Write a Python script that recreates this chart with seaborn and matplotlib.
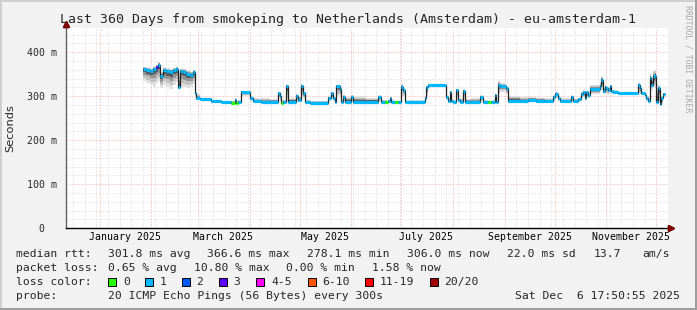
import numpy as np
import pandas as pd
import matplotlib
matplotlib.use("Agg")
import matplotlib.pyplot as plt
import matplotlib.dates as mdates
import matplotlib.transforms as mtransforms
from matplotlib.patches import Rectangle
from matplotlib.ticker import MultipleLocator, NullFormatter
import seaborn as sns

# ---------------- data ----------------
dates = [
    "2025-01-27", "2025-01-29", "2025-01-31", "2025-02-02", "2025-02-04", "2025-02-05",
    "2025-02-06", "2025-02-08", "2025-02-10", "2025-02-12", "2025-02-14", "2025-02-16",
    "2025-02-17", "2025-02-18", "2025-02-20", "2025-02-22", "2025-02-24", "2025-02-26",
    "2025-02-27", "2025-02-28", "2025-03-02", "2025-03-09", "2025-03-15", "2025-03-21",
    "2025-03-23", "2025-03-24", "2025-03-25", "2025-03-27", "2025-04-01", "2025-04-03",
    "2025-04-08", "2025-04-13", "2025-04-18", "2025-04-19", "2025-04-20", "2025-04-21",
    "2025-04-23", "2025-04-24", "2025-04-29", "2025-04-30", "2025-05-02", "2025-05-03",
    "2025-05-04", "2025-05-07", "2025-05-18", "2025-05-20", "2025-05-21", "2025-05-22",
    "2025-05-23", "2025-05-25", "2025-05-26", "2025-05-27", "2025-05-28", "2025-06-01",
    "2025-06-02", "2025-06-10", "2025-06-17", "2025-06-19", "2025-06-21", "2025-06-23",
    "2025-06-24", "2025-06-25", "2025-06-27", "2025-06-29", "2025-07-01", "2025-07-02",
    "2025-07-03", "2025-07-15", "2025-07-16", "2025-07-17", "2025-07-28", "2025-07-29",
    "2025-07-30", "2025-07-31", "2025-08-01", "2025-08-03", "2025-08-04", "2025-08-05",
    "2025-08-07", "2025-08-08", "2025-08-12", "2025-08-17", "2025-08-19", "2025-08-22",
    "2025-08-24", "2025-08-26", "2025-08-27", "2025-08-28", "2025-08-29", "2025-09-02",
    "2025-09-03", "2025-09-10", "2025-09-15", "2025-09-20", "2025-09-25", "2025-09-30",
    "2025-10-01", "2025-10-03", "2025-10-04", "2025-10-11", "2025-10-12", "2025-10-15",
    "2025-10-17", "2025-10-18", "2025-10-19", "2025-10-20", "2025-10-21", "2025-10-22",
    "2025-10-28", "2025-10-29", "2025-10-30", "2025-10-31", "2025-11-01", "2025-11-02",
    "2025-11-03", "2025-11-04", "2025-11-05", "2025-11-08", "2025-11-20", "2025-11-21",
    "2025-11-22", "2025-11-24", "2025-11-25", "2025-11-26", "2025-11-27", "2025-11-28",
    "2025-11-29", "2025-11-30", "2025-12-01", "2025-12-02", "2025-12-03", "2025-12-04",
    "2025-12-05", "2025-12-06",
]
median_ms = [
    362, 360, 357, 362, 366, 372,
    347, 360, 357, 355, 359, 362,
    322, 357, 355, 351, 348, 355,
    307, 295, 293, 289, 286, 285,
    292, 285, 288, 310, 295, 290,
    288, 288, 307, 300, 285, 288,
    323, 288, 301, 291, 324, 307,
    288, 285.5, 297, 307, 297, 288,
    323, 316, 288, 299, 288, 299,
    288, 288, 299, 288, 288, 290,
    296, 288, 288, 288, 322, 315,
    288, 297, 320, 325, 299, 290,
    310, 290, 288, 314, 292, 288,
    313, 288, 288, 299, 288, 288,
    288, 303, 288, 326, 323, 318,
    290, 289, 291, 290, 289, 299,
    305, 295, 290, 299, 290, 293,
    306, 309, 295, 309, 303, 316,
    323, 337, 312, 322, 318, 314,
    323, 313, 310, 307, 326, 318,
    307, 303, 295, 290, 341, 326,
    345, 347, 288, 318, 282, 295,
    305, 305,
]
smoke_lo_ms = [
    335, 330, 325, 322, 330, 335,
    318, 325, 320, 316, 325, 332,
    315, 322, 320, 318, 322, 328,
    300, 292, 291, 287, 284, 283,
    284, 283, 285, 300, 290, 287,
    286, 286, 295, 290, 283, 286,
    295, 286, 290, 288, 300, 295,
    286, 284, 290, 295, 290, 286,
    300, 300, 286, 290, 286, 290,
    286, 286, 290, 286, 286, 286,
    288, 286, 286, 286, 300, 300,
    286, 290, 300, 323, 292, 287,
    295, 287, 286, 295, 288, 286,
    295, 286, 286, 290, 286, 286,
    286, 292, 286, 305, 310, 305,
    287, 286, 287, 287, 286, 290,
    295, 290, 287, 290, 287, 288,
    295, 298, 290, 298, 295, 305,
    310, 315, 305, 305, 305, 305,
    305, 305, 305, 304, 305, 305,
    303, 298, 290, 287, 320, 315,
    320, 320, 285, 290, 278, 285,
    300, 300,
]
smoke_hi_ms = [
    367, 366, 364, 368, 372, 378,
    356, 366, 364, 362, 365, 368,
    352, 363, 362, 359, 356, 360,
    340, 305, 296, 292, 289, 290,
    296, 289, 291, 313, 300, 295,
    296, 294, 310, 304, 290, 292,
    326, 297, 305, 300, 327, 310,
    292, 289, 300, 310, 300, 291,
    326, 319, 292, 303, 298, 303,
    300, 297, 302, 292, 291, 292,
    298, 291, 290, 290, 327, 318,
    291, 300, 323, 327, 302, 293,
    313, 293, 291, 317, 295, 296,
    316, 293, 296, 302, 291, 290,
    291, 306, 291, 335, 330, 322,
    300, 298, 299, 297, 296, 302,
    310, 300, 295, 302, 294, 297,
    310, 314, 300, 312, 308, 325,
    330, 345, 320, 326, 322, 318,
    326, 316, 314, 310, 330, 322,
    310, 306, 299, 295, 352, 345,
    358, 360, 330, 325, 290, 300,
    308, 308,
]
loss_level = [
    1, 1, 1, 1, 3, 1,
    1, 1, 1, 1, 1, 1,
    1, 1, 1, 1, 1, 1,
    1, 1, 1, 1, 1, 0,
    1, 0, 1, 1, 1, 1,
    1, 1, 1, 1, 0, 1,
    1, 1, 1, 1, 1, 1,
    1, 1, 1, 1, 1, 1,
    1, 1, 1, 1, 1, 1,
    1, 1, 1, 1, 0, 1,
    1, 1, 0, 1, 1, 1,
    1, 1, 1, 1, 1, 1,
    1, 1, 1, 1, 1, 1,
    1, 1, 1, 1, 1, 0,
    1, 1, 1, 1, 1, 1,
    1, 1, 1, 1, 1, 1,
    1, 1, 1, 1, 1, 1,
    1, 1, 1, 1, 1, 1,
    1, 1, 1, 1, 1, 1,
    1, 1, 1, 1, 1, 1,
    1, 1, 1, 1, 1, 1,
    1, 1, 1, 1, 1, 1,
    1, 1,
]

loss_names = ["0", "1", "2", "3", "4-5", "6-10", "11-19", "20/20"]
loss_colors = ["#26ff00", "#00b8ff", "#0059ff", "#5e00ff", "#ff00ff",
               "#ff5500", "#ff0000", "#a10000"]

x_label_texts = ["January 2025", "March 2025", "May 2025", "July 2025",
                 "September 2025", "November 2025"]
x_label_dates = ["2025-01-16", "2025-03-16", "2025-05-16", "2025-07-16",
                 "2025-09-16", "2025-11-16"]
y_tick_values = [0, 100, 200, 300, 400]
y_tick_labels = ["0  ", "100 m", "200 m", "300 m", "400 m"]

title = "Last 360 Days from smokeping to Netherlands (Amsterdam) - eu-amsterdam-1"
t_start = "2024-12-11 17:50:55"
t_end = "2025-12-06 17:50:55"

rtt_items = ["median rtt:", "301.8 ms avg", "366.6 ms max", "278.1 ms min",
             "306.0 ms now", "22.0 ms sd", "13.7", "am/s"]
loss_items = ["packet loss:", "0.65 % avg", "10.80 % max", "0.00 % min", "1.58 % now"]
probe_text = "20 ICMP Echo Pings (56 Bytes) every 300s"
stamp_text = "Sat Dec  6 17:50:55 2025"

# ---------------- style ----------------
sns.set_style("white")
plt.rcParams["font.family"] = ["DejaVu Sans Mono", "DejaVu Sans"]
MONO = "DejaVu Sans Mono"

W, H = 697, 310
fig = plt.figure(figsize=(W / 100, H / 100), dpi=100)
fig.patch.set_facecolor("#f2f2f2")

def fx(x):
    return x / W

def fy(y):
    return 1 - y / H

# frame (3D shade)
fig.patches.append(Rectangle((0, fy(2)), 1, 2 / H, transform=fig.transFigure,
                             color="#cfcfcf", lw=0, zorder=0))
fig.patches.append(Rectangle((0, 0), 2 / W, 1, transform=fig.transFigure,
                             color="#cfcfcf", lw=0, zorder=0))
fig.patches.append(Rectangle((0, 0), 1, 2 / H, transform=fig.transFigure,
                             color="#9e9e9e", lw=0, zorder=0))
fig.patches.append(Rectangle((1 - 2 / W, 0), 2 / W, 1, transform=fig.transFigure,
                             color="#9e9e9e", lw=0, zorder=0))

top_px, bot_px, left_px, right_px = 28.0, 228.3, 66.0, 668.0
ax = fig.add_axes([fx(left_px), fy(bot_px), (right_px - left_px) / W,
                   (bot_px - top_px) / H])
ax.set_facecolor("white")

df = pd.DataFrame({
    "time": pd.to_datetime(dates),
    "median": median_ms,
    "lo": smoke_lo_ms,
    "hi": smoke_hi_ms,
    "loss": loss_level,
})

# smoke (layers, darker near the median)
med = df["median"].to_numpy(float)
lo = df["lo"].to_numpy(float)
hi = df["hi"].to_numpy(float)
for frac, col in [(1.0, "#e0e0e0"), (0.75, "#c2c2c2"), (0.5, "#949494"), (0.28, "#585858")]:
    ax.fill_between(df["time"], med - (med - lo) * frac, med + (hi - med) * frac,
                    step="post", color=col, lw=0, zorder=1)

# median line (black)
sns.lineplot(data=df, x="time", y="median", drawstyle="steps-post",
             color="#202020", lw=0.9, ax=ax, zorder=3, estimator=None)

# loss-coloured median band
seg_colors = [loss_colors[l] for l in df["loss"].to_numpy()[:-1]]
ax.hlines(med[:-1], df["time"].to_numpy()[:-1], df["time"].to_numpy()[1:],
          colors=seg_colors, lw=2.3, zorder=4, capstyle="butt")

# axes ranges
x0 = pd.Timestamp(t_start)
x1 = pd.Timestamp(t_end) + pd.Timedelta(days=1.2)
ax.set_xlim(x0, x1)
ax.set_ylim(0, 455)

# grid
ax.set_axisbelow(True)
ax.xaxis.set_major_locator(mdates.MonthLocator())
ax.xaxis.set_minor_locator(mdates.WeekdayLocator(byweekday=mdates.MO))
ax.xaxis.set_major_formatter(NullFormatter())
ax.yaxis.set_major_locator(MultipleLocator(100))
ax.yaxis.set_minor_locator(MultipleLocator(20))
ax.grid(which="major", color="#f0a8a8", lw=0.72, ls=(0, (1, 2)))
ax.grid(which="minor", color="#d8d8d8", lw=0.72, ls=(0, (1, 2)))
ax.set_yticks(y_tick_values, y_tick_labels)
ax.tick_params(axis="x", which="both", length=0)
ax.tick_params(axis="y", which="major", length=3, width=0.8, color="#606060",
               direction="out", pad=3.5, labelsize=7.1, labelfontfamily=MONO)
ax.tick_params(axis="y", which="minor", length=0)
ax.set_xlabel("")
ax.set_ylabel("")

for sp in ["top", "right"]:
    ax.spines[sp].set_visible(False)
ax.spines["left"].set_color("#606060")
ax.spines["left"].set_linewidth(1.0)
ax.spines["bottom"].set_color("#000000")
ax.spines["bottom"].set_linewidth(1.0)

# arrows
up = ax.transAxes + mtransforms.ScaledTranslation(0, 4 / 100, fig.dpi_scale_trans)
ax.plot([0, 0], [1, 1], transform=up, marker="^", ms=4.5, color="#7f0000",
        clip_on=False, zorder=6)
ax.plot([0, 0], [1.0, 1.0 + 4 / (bot_px - top_px)], transform=ax.transAxes,
        color="#606060", lw=1.0, clip_on=False)
rt = ax.transAxes + mtransforms.ScaledTranslation(3 / 100, 0, fig.dpi_scale_trans)
ax.plot([1, 1], [0, 0], transform=rt, marker=">", ms=4.5, color="#7f0000",
        clip_on=False, zorder=6)

# x labels centred on mid-month
lab_tr = mtransforms.blended_transform_factory(ax.transData, ax.transAxes)
for d, s in zip(x_label_dates, x_label_texts):
    ax.text(pd.Timestamp(d), -(237.3 - bot_px) / (bot_px - top_px), s,
            transform=lab_tr, ha="center", va="center", fontsize=7.1,
            family=MONO, color="#000000")

# title, y label, watermark
fig.text(0.5, fy(19.3), title, ha="center", va="center", fontsize=9.5, family=MONO)
fig.text(fx(10), fy(128), "Seconds", rotation=90, ha="center", va="center",
         fontsize=8.2, family="DejaVu Sans")
fig.text(fx(687.7), fy(5), "RRDTOOL / TOBI OETIKER", rotation=270, ha="center",
         va="top", fontsize=5.9, family=MONO, color="#a8a8a8")

# legend rows
LS = 8.2
rtt_x = [16, 107.6, 206.7, 306.7, 406.7, 506.7, 593.3, 642.2]
for x, s in zip(rtt_x, rtt_items):
    fig.text(fx(x), fy(254.4), s, ha="left", va="center", fontsize=LS, family=MONO)
loss_x = [16, 107.6, 194.2, 285.8, 372.4]
for x, s in zip(loss_x, loss_items):
    fig.text(fx(x), fy(268.3), s, ha="left", va="center", fontsize=LS, family=MONO)
fig.text(fx(16), fy(282), "loss color:", ha="left", va="center", fontsize=LS, family=MONO)
box_x = [108.4, 145.3, 182.0, 219.0, 256.4, 307.6, 365.3, 429.8]
for x, name, col in zip(box_x, loss_names, loss_colors):
    fig.patches.append(Rectangle((fx(x), fy(286)), 8 / W, 8 / H,
                                 transform=fig.transFigure, facecolor=col,
                                 edgecolor="black", lw=0.7))
    fig.text(fx(x + 14.5), fy(282), name, ha="left", va="center", fontsize=LS, family=MONO)
fig.text(fx(16), fy(296), "probe:", ha="left", va="center", fontsize=LS, family=MONO)
fig.text(fx(107.6), fy(296), probe_text, ha="left", va="center", fontsize=LS, family=MONO)
fig.text(fx(680), fy(296), stamp_text, ha="right", va="center", fontsize=LS, family=MONO)

fig.savefig("out.png", dpi=100, facecolor=fig.get_facecolor())
